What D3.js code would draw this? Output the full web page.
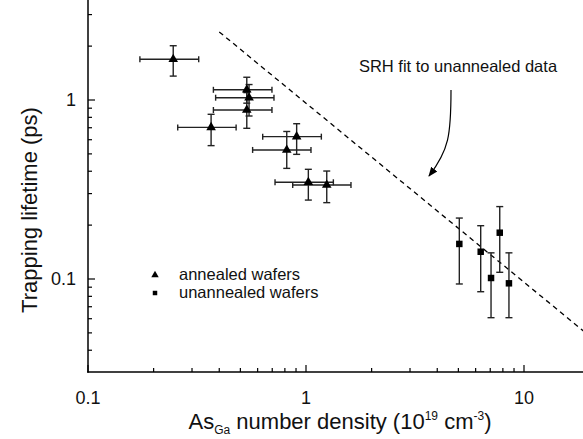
<!DOCTYPE html>
<html><head><meta charset="utf-8">
<script src="https://cdn.jsdelivr.net/npm/d3@7"></script>
<style>
html,body{margin:0;padding:0;background:#fff;}
svg{display:block;font-family:"Liberation Sans",Arial,Helvetica,sans-serif;}
</style></head>
<body><svg id="c" width="583" height="439"></svg>
<script>
// ---- data ----
const annN    = [0.246, 0.535, 0.548, 0.535, 0.367, 0.906, 0.816, 1.025, 1.245];
const annTau  = [1.69, 1.14, 1.03, 0.879, 0.703, 0.624, 0.526, 0.347, 0.335];
const annNlo  = [0.173, 0.376, 0.385, 0.376, 0.258, 0.633, 0.569, 0.721, 0.869];
const annNhi  = [0.322, 0.698, 0.713, 0.698, 0.478, 1.176, 1.054, 1.335, 1.608];
const annTlo  = [1.36, 0.96, 0.814, 0.695, 0.556, 0.497, 0.415, 0.276, 0.267];
const annThi  = [2.01, 1.34, 1.22, 1.10, 0.832, 0.737, 0.667, 0.410, 0.401];

const unN     = [5.05, 6.33, 7.06, 7.74, 8.53];
const unTau   = [0.157, 0.142, 0.1013, 0.1814, 0.0946];
const unTlo   = [0.0938, 0.0849, 0.0608, 0.109, 0.0608];
const unThi   = [0.219, 0.1985, 0.140, 0.2538, 0.140];

const fitN    = [0.40, 20];
const fitTau  = [2.40, 0.048];

const xMajor  = [0.1, 1, 10];
const xMinor  = [0.2,0.3,0.4,0.5,0.6,0.7,0.8,0.9,2,3,4,5,6,7,8,9];
const yMajor  = [0.1, 1];
const yMinor  = [0.04,0.05,0.06,0.07,0.08,0.09,0.2,0.3,0.4,0.5,0.6,0.7,0.8,0.9,2,3];
const xLabels = ["0.1","1","10"];
const yLabels = ["0.1","1"];
const legendLabels = ["annealed wafers","unannealed wafers"];
const annotation = "SRH fit to unannealed data";

// ---- layout ----
const svg = d3.select("#c");
const L = 88, R = 583, T = 0, B = 372;
const x = d3.scaleLog().domain([0.1, 10]).range([88, 524]);
const y = d3.scaleLog().domain([0.1, 1]).range([279, 100]);

svg.append("clipPath").attr("id","clip").append("rect")
  .attr("x", L).attr("y", T).attr("width", R-L).attr("height", B-T);

const plot = svg.append("g").attr("clip-path","url(#clip)");

// fit line
plot.append("path")
  .datum(fitN.map((n,i)=>[n, fitTau[i]]))
  .attr("d", d3.line().x(d=>x(d[0])).y(d=>y(d[1])))
  .attr("fill","none").attr("stroke","#000").attr("stroke-width",1.3)
  .attr("stroke-dasharray","5,4");

// error bars
const ebColor = "#222";
const annData = annN.map((n,i)=>({n, t:annTau[i], nlo:annNlo[i], nhi:annNhi[i], tlo:annTlo[i], thi:annThi[i]}));
const unData = unN.map((n,i)=>({n, t:unTau[i], tlo:unTlo[i], thi:unThi[i]}));

const eb = plot.append("g").attr("stroke", ebColor).attr("stroke-width",1.4).attr("fill","none");
annData.forEach(d=>{
  eb.append("line").attr("x1",x(d.nlo)).attr("x2",x(d.nhi)).attr("y1",y(d.t)).attr("y2",y(d.t));
  eb.append("line").attr("x1",x(d.nlo)).attr("x2",x(d.nlo)).attr("y1",y(d.t)-3).attr("y2",y(d.t)+3);
  eb.append("line").attr("x1",x(d.nhi)).attr("x2",x(d.nhi)).attr("y1",y(d.t)-3).attr("y2",y(d.t)+3);
  eb.append("line").attr("x1",x(d.n)).attr("x2",x(d.n)).attr("y1",y(d.tlo)).attr("y2",y(d.thi));
  eb.append("line").attr("x1",x(d.n)-3.5).attr("x2",x(d.n)+3.5).attr("y1",y(d.tlo)).attr("y2",y(d.tlo));
  eb.append("line").attr("x1",x(d.n)-3.5).attr("x2",x(d.n)+3.5).attr("y1",y(d.thi)).attr("y2",y(d.thi));
});
unData.forEach(d=>{
  eb.append("line").attr("x1",x(d.n)).attr("x2",x(d.n)).attr("y1",y(d.tlo)).attr("y2",y(d.thi));
  eb.append("line").attr("x1",x(d.n)-3.5).attr("x2",x(d.n)+3.5).attr("y1",y(d.tlo)).attr("y2",y(d.tlo));
  eb.append("line").attr("x1",x(d.n)-3.5).attr("x2",x(d.n)+3.5).attr("y1",y(d.thi)).attr("y2",y(d.thi));
});

// markers
const tri = d3.symbol().type(d3.symbolTriangle).size(40);
const sq  = d3.symbol().type(d3.symbolSquare).size(42);
plot.selectAll(".tri").data(annData).join("path")
  .attr("d", tri).attr("transform", d=>`translate(${x(d.n)},${y(d.t)})`).attr("fill","#000");
plot.selectAll(".sq").data(unData).join("path")
  .attr("d", sq).attr("transform", d=>`translate(${x(d.n)},${y(d.t)})`).attr("fill","#000");

// axes
const ax = svg.append("g").attr("stroke","#000").attr("stroke-width",1.5);
ax.append("line").attr("x1",L).attr("x2",L).attr("y1",T).attr("y2",B+0.75);
ax.append("line").attr("x1",L-0.75).attr("x2",R).attr("y1",B).attr("y2",B);

const tk = svg.append("g").attr("stroke","#000").attr("stroke-width",1.2);
xMajor.forEach(v=>{ tk.append("line").attr("x1",x(v)).attr("x2",x(v)).attr("y1",B).attr("y2",B-7); });
xMinor.forEach(v=>{ tk.append("line").attr("x1",x(v)).attr("x2",x(v)).attr("y1",B).attr("y2",B-4); });
yMajor.forEach(v=>{ tk.append("line").attr("x1",L).attr("x2",L+7).attr("y1",y(v)).attr("y2",y(v)); });
yMinor.forEach(v=>{ if (y(v) > T) tk.append("line").attr("x1",L).attr("x2",L+4).attr("y1",y(v)).attr("y2",y(v)); });

// tick labels
svg.append("g").selectAll("text").data(xMajor).join("text")
  .attr("x", d=>x(d)).attr("y", 404).attr("text-anchor","middle")
  .attr("font-size",18).attr("fill","#111").text((d,i)=>xLabels[i]);
svg.append("g").selectAll("text").data(yMajor).join("text")
  .attr("x", L-12).attr("y", d=>y(d)+6).attr("text-anchor","end")
  .attr("font-size",18).attr("fill","#111").text((d,i)=>yLabels[i]);

// axis titles
const xt = svg.append("text").attr("x", 340).attr("y", 429).attr("text-anchor","middle")
  .attr("font-size",22).attr("fill","#111");
xt.append("tspan").text("As");
xt.append("tspan").attr("font-size",12).attr("dy",5).text("Ga");
xt.append("tspan").attr("dy",-5).text(" number density (10");
xt.append("tspan").attr("font-size",12).attr("dy",-9).text("19");
xt.append("tspan").attr("dy",9).text(" cm");
xt.append("tspan").attr("font-size",12).attr("dy",-9).text("-3");
xt.append("tspan").attr("dy",9).text(")");

svg.append("text").attr("transform","translate(37,210) rotate(-90)")
  .attr("text-anchor","middle").attr("font-size",22).attr("fill","#111")
  .text("Trapping lifetime (ps)");

// legend
const lg = svg.append("g");
lg.append("path").attr("d", d3.symbol().type(d3.symbolTriangle).size(24)).attr("transform","translate(155,275)");
lg.append("path").attr("d", d3.symbol().type(d3.symbolSquare).size(20)).attr("transform","translate(155,293)");
lg.append("text").attr("x",179).attr("y",280).attr("font-size",16.5).attr("fill","#111").text(legendLabels[0]);
lg.append("text").attr("x",179).attr("y",298).attr("font-size",16.5).attr("fill","#111").text(legendLabels[1]);

// annotation
svg.append("text").attr("x",458).attr("y",72).attr("text-anchor","middle")
  .attr("font-size",16.5).attr("fill","#111").text(annotation);
svg.append("defs").append("marker").attr("id","ah").attr("viewBox","0 0 10 10")
  .attr("refX",9).attr("refY",5).attr("markerWidth",8).attr("markerHeight",8)
  .attr("orient","auto").append("path").attr("d","M0,1 L10,5 L0,9 Z").attr("fill","#000");
svg.append("path").attr("d","M451,90 C451,135 449,150 429,176")
  .attr("fill","none").attr("stroke","#000").attr("stroke-width",1.2)
  .attr("marker-end","url(#ah)");
</script></body></html>
